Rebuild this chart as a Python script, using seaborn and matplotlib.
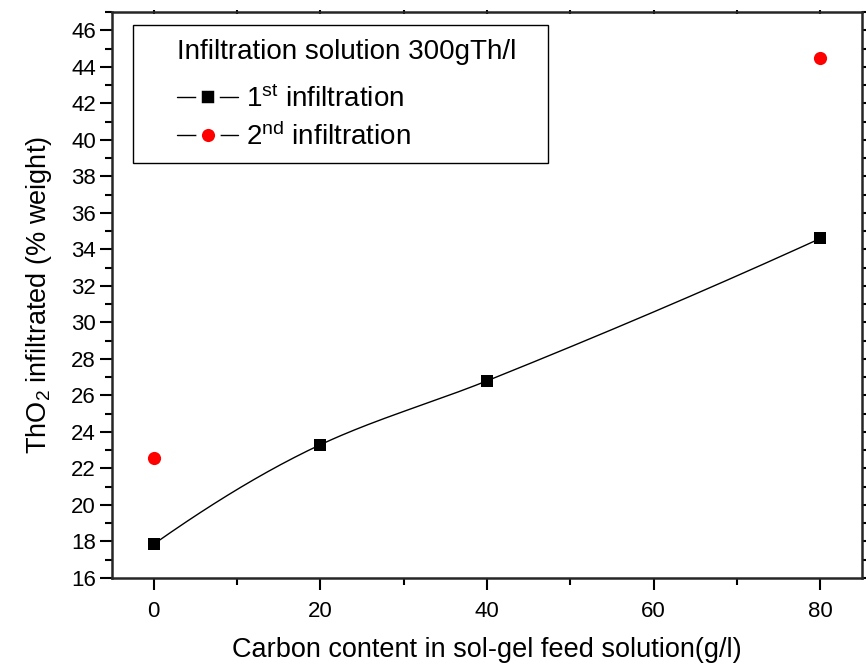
import numpy as np
import pandas as pd
import matplotlib
matplotlib.use("Agg")
import matplotlib.pyplot as plt
from matplotlib.lines import Line2D
from matplotlib.patches import Rectangle
from matplotlib.ticker import MultipleLocator
import seaborn as sns

# Data
carbon_1st = [0, 20, 40, 80]
tho2_1st = [17.85, 23.3, 26.8, 34.6]
carbon_2nd = [0, 80]
tho2_2nd = [22.6, 44.5]
x_ticks = [0, 20, 40, 60, 80]
y_ticks = list(range(16, 47, 2))

sns.set_theme(style="ticks")
plt.rcParams['font.family'] = ['Liberation Sans', 'DejaVu Sans']
plt.rcParams['mathtext.fontset'] = 'custom'
plt.rcParams['mathtext.rm'] = 'Liberation Sans'
plt.rcParams['mathtext.it'] = 'Liberation Sans'
plt.rcParams['text.color'] = 'black'
plt.rcParams['axes.labelcolor'] = 'black'


def pchip(xk, yk, n=200):
    xk = np.asarray(xk, float); yk = np.asarray(yk, float)
    h = np.diff(xk); d = np.diff(yk) / h
    m = np.zeros(len(xk))
    for k in range(1, len(xk) - 1):
        if d[k - 1] * d[k] > 0:
            w1 = 2 * h[k] + h[k - 1]; w2 = h[k] + 2 * h[k - 1]
            m[k] = (w1 + w2) / (w1 / d[k - 1] + w2 / d[k])
    def end(h0, h1, d0, d1):
        s = ((2 * h0 + h1) * d0 - h0 * d1) / (h0 + h1)
        if np.sign(s) != np.sign(d0):
            s = 0.0
        elif np.sign(d0) != np.sign(d1) and abs(s) > abs(3 * d0):
            s = 3 * d0
        return s
    m[0] = end(h[0], h[1], d[0], d[1])
    m[-1] = end(h[-1], h[-2], d[-1], d[-2])
    xs = np.linspace(xk[0], xk[-1], n)
    idx = np.clip(np.searchsorted(xk, xs) - 1, 0, len(xk) - 2)
    hh = h[idx]; t = (xs - xk[idx]) / hh
    h00 = 2 * t**3 - 3 * t**2 + 1; h10 = t**3 - 2 * t**2 + t
    h01 = -2 * t**3 + 3 * t**2; h11 = t**3 - t**2
    ys = h00 * yk[idx] + h10 * hh * m[idx] + h01 * yk[idx + 1] + h11 * hh * m[idx + 1]
    return xs, ys


fig = plt.figure(figsize=(8.66, 6.70), dpi=100)
ax = fig.add_axes([0.1293, 0.1373, 0.8661, 0.8447])

xs, ys = pchip(carbon_1st, tho2_1st)
sns.lineplot(x=xs, y=ys, ax=ax, color='black', linewidth=1.0, sort=False)
sns.scatterplot(x=carbon_1st, y=tho2_1st, ax=ax, marker='s', s=70, color='black',
                edgecolor='black', linewidth=0, zorder=3)
sns.scatterplot(x=carbon_2nd, y=tho2_2nd, ax=ax, marker='o', s=90, color='red',
                edgecolor='red', linewidth=0, zorder=3)

ax.set_xlim(-5, 85)
ax.set_ylim(16, 47)
ax.set_xticks(x_ticks)
ax.set_yticks(y_ticks)
ax.xaxis.set_minor_locator(MultipleLocator(10))
ax.yaxis.set_minor_locator(MultipleLocator(1))
for side in ['bottom', 'left', 'top', 'right']:
    ax.spines[side].set_linewidth(1.8)
    ax.spines[side].set_visible(True)
ax.tick_params(axis='both', which='major', direction='out', length=8.5, width=1.5,
               labelsize=16, color='black', labelcolor='black')
ax.tick_params(axis='both', which='minor', direction='out', length=5, width=1.5, color='black')
ax.tick_params(axis='x', which='major', pad=8)
ax.tick_params(axis='y', which='major', pad=3)
ax.xaxis.set_tick_params(which='both', top=True)
ax.yaxis.set_tick_params(which='both', right=True)
for t in ax.xaxis.get_major_ticks() + ax.xaxis.get_minor_ticks():
    t.tick2line.set_markersize(3)
    t.tick2line.set_marker('|')
for t in ax.yaxis.get_major_ticks() + ax.yaxis.get_minor_ticks():
    t.tick2line.set_markersize(3)

ax.set_xlabel('Carbon content in sol-gel feed solution(g/l)', fontsize=19.5, color='black', labelpad=11)
ax.set_ylabel(r'ThO$_2$ infiltrated (% weight)', fontsize=19.5, color='black', labelpad=12)

# legend frame and title
ax.add_patch(Rectangle((0.028, 0.733), 0.553, 0.244, transform=ax.transAxes,
                       facecolor='white', edgecolor='black', linewidth=1.0, zorder=4))
ax.text(0.0867, 0.929, 'Infiltration solution 300gTh/l', transform=ax.transAxes,
        fontsize=20, ha='left', va='center', color='black', zorder=5)

handles = [
    Line2D([], [], color='black', linewidth=1.0, marker='s', markersize=13.5,
           markerfacecolor='black', markeredgecolor='white', markeredgewidth=4),
    Line2D([], [], color='black', linewidth=1.0, marker='o', markersize=13.5,
           markerfacecolor='red', markeredgecolor='white', markeredgewidth=4),
]
labels = [r'1$^{\rm st}$ infiltration', r'2$^{\rm nd}$ infiltration']
leg = ax.legend(handles, labels, loc='upper left',
                bbox_to_anchor=(0.0867, 0.871), fontsize=20,
                frameon=False, handlelength=2.2,
                handletextpad=0.3, borderpad=0, labelspacing=0.33,
                borderaxespad=0, labelcolor='black')
leg.set_zorder(5)

fig.savefig('out.png', dpi=100, facecolor='white')
